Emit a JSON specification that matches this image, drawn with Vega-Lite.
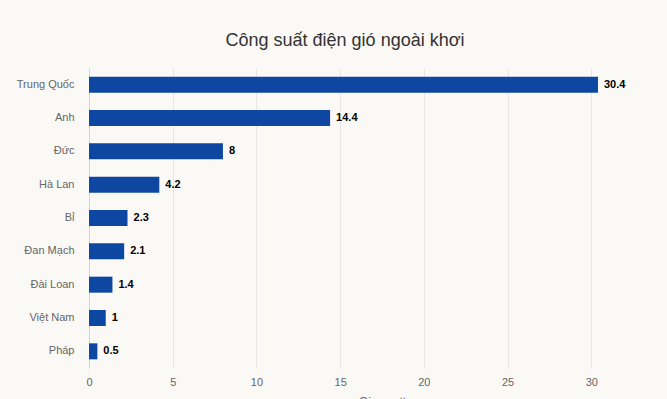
{
  "$schema": "https://vega.github.io/schema/vega-lite/v6.json",
  "autosize": {"type": "none"},
  "padding": {"left": 89, "top": 68, "right": 0, "bottom": 40},
  "width": 586,
  "height": 300,
  "background": "#fbf9f6",
  "title": {
    "text": "Công suất điện gió ngoài khơi",
    "fontSize": 18,
    "font": "Liberation Sans",
    "fontWeight": "normal",
    "color": "#333333",
    "offset": 18,
    "dx": -37,
    "anchor": "middle"
  },
  "config": {
    "view": {"stroke": null},
    "font": "Liberation Sans"
  },
  "data": {
    "values": [
      {"country": "Trung Quốc", "gw": 30.4},
      {"country": "Anh", "gw": 14.4},
      {"country": "Đức", "gw": 8},
      {"country": "Hà Lan", "gw": 4.2},
      {"country": "Bỉ", "gw": 2.3},
      {"country": "Đan Mạch", "gw": 2.1},
      {"country": "Đài Loan", "gw": 1.4},
      {"country": "Việt Nam", "gw": 1},
      {"country": "Pháp", "gw": 0.5}
    ]
  },
  "encoding": {
    "y": {
      "field": "country",
      "type": "nominal",
      "sort": null,
      "scale": {"paddingInner": 0.52, "paddingOuter": 0.26},
      "axis": {
        "title": null,
        "ticks": false,
        "domainColor": "#ccd6eb",
        "labelColor": "#666666",
        "labelFontSize": 11,
        "labelPadding": 15,
        "grid": false
      }
    },
    "x": {
      "field": "gw",
      "type": "quantitative",
      "scale": {"domain": [0, 35], "nice": false},
      "axis": {
        "title": "Gigawatt",
        "titleColor": "#666666",
        "titleFontSize": 12,
        "titleFontWeight": "normal",
        "titlePadding": 9,
        "values": [0, 5, 10, 15, 20, 25, 30, 35],
        "labelFlush": false,
        "domain": false,
        "ticks": false,
        "grid": true,
        "gridColor": "#e6e6e6",
        "labelColor": "#666666",
        "labelFontSize": 11,
        "labelPadding": 8
      }
    }
  },
  "layer": [
    {"mark": {"type": "bar", "color": "#0d47a1"}},
    {
      "mark": {"type": "text", "align": "left", "dx": 6, "fontWeight": "bold", "fontSize": 11, "color": "#000000"},
      "encoding": {"text": {"field": "gw", "type": "quantitative"}}
    }
  ]
}
